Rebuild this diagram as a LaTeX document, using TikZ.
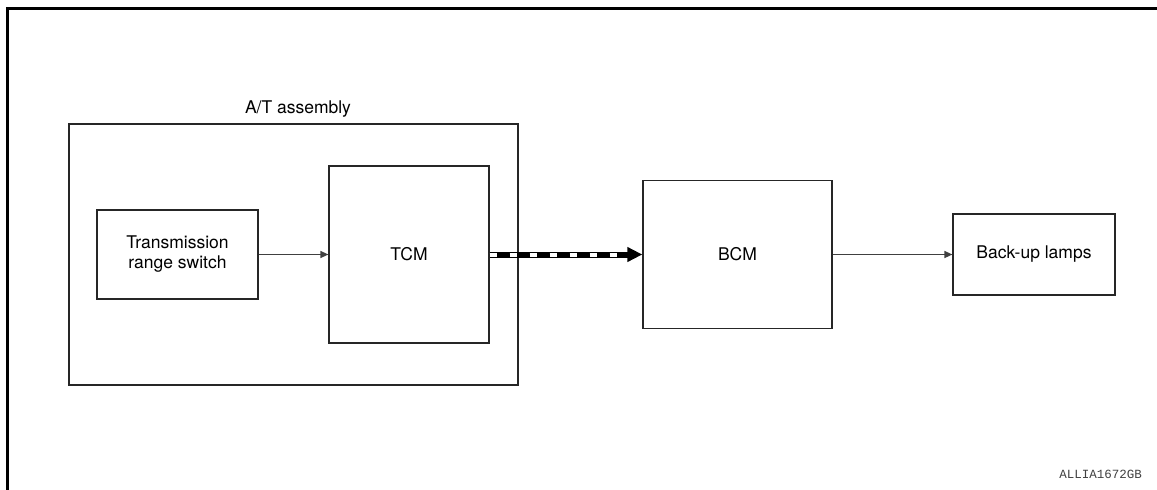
\documentclass[tikz,border=0pt]{standalone}
\usepackage{fontspec}
\setmainfont{TeX Gyre Heros}
\newfontfamily\codefont{Liberation Mono}
\usetikzlibrary{arrows.meta}
\tikzset{
  label text/.style={font=\fontsize{17.5}{20}\selectfont},
  box/.style={draw=black!85, line width=1.2pt, inner sep=0pt, align=center, label text},
  link/.style={draw=black!75, line width=1.3pt, -{Triangle[length=8pt,width=7pt]}},
  busline/.style={line width=6pt, -{Triangle[length=15pt,width=14pt]}},
  busgap/.style={white, line width=4pt, dash pattern=on 7pt off 13pt, shorten >=25pt},
}
\begin{document}
\begin{tikzpicture}[x=1pt,y=-1pt]
\useasboundingbox (0,0) rectangle (1157,490);
% sheet frame
\draw[line width=3.3pt] (7.5,490) -- (7.5,8.3) -- (1157,8.3);
% A/T assembly enclosure
\node[box, minimum width=449pt, minimum height=261pt] (at) at (293.5,254.5) {};
\node[anchor=base, label text, inner sep=0pt] (atlabel) at (298,113) {A/T assembly};
% units
\node[box, minimum width=161pt, minimum height=89pt] (trs) at (177.5,254.5) {Transmission\\range switch};
\node[box, minimum width=160pt, minimum height=177pt] (tcm) at (409,254.5) {TCM};
\node[box, minimum width=189pt, minimum height=148pt] (bcm) at (737.5,254.5) {BCM};
\node[box, minimum width=162pt, minimum height=81pt] (lamps) at (1034,254.5) {Back-up lamps};
% signal lines
\draw[link] (trs.east) -- (tcm.west);
\draw[busline] (tcm.east) -- (bcm.west);
\draw[busgap] (tcm.east) -- (bcm.west);
\draw[link] (bcm.east) -- (lamps.west);
% drawing number
\node[anchor=base east, inner sep=0pt, text=black!75, font=\codefont\fontsize{12.5}{14}\selectfont] (code) at (1142,478) {ALLIA1672GB};
\end{tikzpicture}
\end{document}
